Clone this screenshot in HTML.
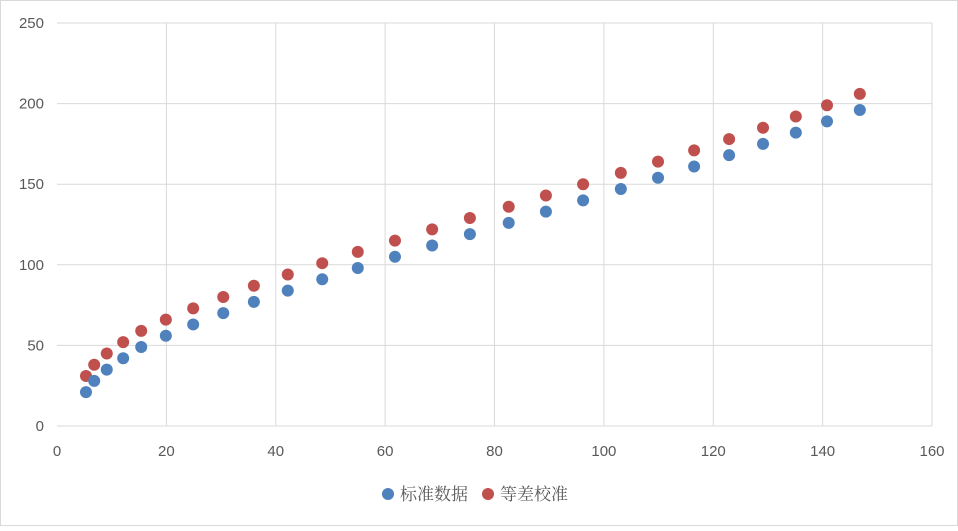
<!DOCTYPE html>
<html><head><meta charset="utf-8">
<style>
html,body{margin:0;padding:0;background:#fff;}
body{width:958px;height:526px;overflow:hidden;font-family:"Liberation Sans","Noto Sans CJK SC",sans-serif;}
svg text{font-family:"Liberation Sans","Noto Sans CJK SC",sans-serif;fill:#595959;}
svg text.cjk{font-family:"Liberation Serif","Noto Serif CJK SC",serif;}
</style></head>
<body>
<svg id="chart" width="958" height="526" viewBox="0 0 958 526" xmlns="http://www.w3.org/2000/svg">
<rect x="0.5" y="0.5" width="957" height="525" fill="#fff" stroke="#d9d9d9"/>
<g id="grid"></g><g id="ticks"></g><g id="marks"></g>
<g>
<circle cx="388" cy="494" r="6" fill="#4f81bd"/>
<text class="cjk" x="400" y="500" font-size="17">标准数据</text>
<circle cx="488" cy="494" r="6" fill="#c0504d"/>
<text class="cjk" x="500" y="500" font-size="17">等差校准</text>
</g>
</svg>
<script>
const xValues=[5.3,6.8,9.1,12.1,15.4,19.9,24.9,30.4,36.0,42.2,48.5,55.0,61.8,68.6,75.5,82.6,89.4,96.2,103.1,109.9,116.5,122.9,129.1,135.1,140.8,146.8];
const standardValues=[21,28,35,42,49,56,63,70,77,84,91,98,105,112,119,126,133,140,147,154,161,168,175,182,189,196];
const calibratedValues=[31,38,45,52,59,66,73,80,87,94,101,108,115,122,129,136,143,150,157,164,171,178,185,192,199,206];
const xTicks=[0,20,40,60,80,100,120,140,160];
const yTicks=[0,50,100,150,200,250];
const NS="http://www.w3.org/2000/svg";
const X=v=>57+v*(932-57)/160;
const Y=v=>426-v*(426-23)/250;
function mk(tag,attrs,parent){const e=document.createElementNS(NS,tag);for(const k in attrs)e.setAttribute(k,attrs[k]);document.getElementById(parent).appendChild(e);return e;}
xTicks.forEach(t=>{
  if(t>0){const l=mk('line',{x1:X(t),x2:X(t),y1:Y(0),y2:Y(250),stroke:'#d9d9d9'},'grid');
  
  }
  const tx=mk('text',{x:X(t),y:456,'text-anchor':'middle','font-size':'15'},'ticks');tx.textContent=t;
  
  
});
yTicks.forEach(t=>{
  const l=mk('line',{x1:X(0),x2:X(160),y1:Y(t),y2:Y(t),stroke:'#d9d9d9'},'grid');
  
  
  const tx=mk('text',{x:44,y:Y(t)+5,'text-anchor':'end','font-size':'15'},'ticks');tx.textContent=t;
  
  
});
xValues.forEach((x,i)=>{
  const b=mk('circle',{cx:X(x),cy:Y(standardValues[i]),r:6,fill:'#4f81bd'},'marks');
  
  
  const r=mk('circle',{cx:X(x),cy:Y(calibratedValues[i]),r:6,fill:'#c0504d'},'marks');
  
  
});
</script>
</body></html>
